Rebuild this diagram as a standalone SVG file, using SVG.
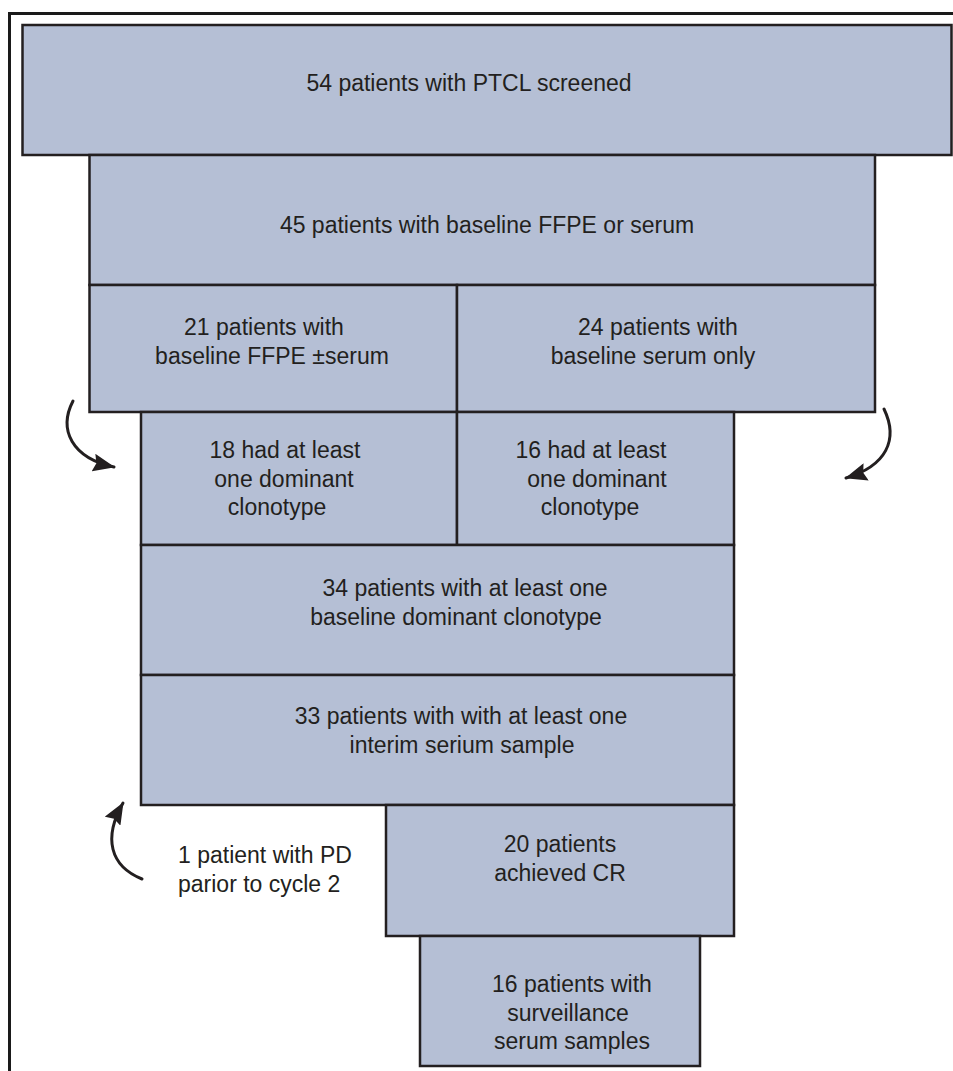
<svg xmlns="http://www.w3.org/2000/svg" width="953" height="1071" viewBox="0 0 953 1071">
<style>
.box{fill:#b5bfd5;stroke:#231f20;stroke-width:2.5}
.t{font-family:"Liberation Sans",Arial,Helvetica,sans-serif;font-size:23px;fill:#231f20;text-anchor:middle}
.ts{font-family:"Liberation Sans",Arial,Helvetica,sans-serif;font-size:23px;fill:#231f20}
.arr{fill:none;stroke:#231f20;stroke-width:3;stroke-linecap:round}
.frame{fill:none;stroke:#1a1a1a;stroke-width:3}
</style>
<defs>
<marker id="ah" viewBox="0 0 22 18" refX="21" refY="9" markerWidth="22" markerHeight="18" markerUnits="userSpaceOnUse" orient="auto">
<path d="M0,0 L22,9 L0,18 L3,9 Z" fill="#231f20"/>
</marker>
</defs>
<rect width="953" height="1071" fill="#ffffff"/>
<path class="frame" d="M9.5,1071 V13.5 H953"/>

<g id="n1"><rect class="box" x="22.5" y="25" width="929" height="130"/>
<text class="t" x="469" y="91">54 patients with PTCL screened</text></g>

<g id="n2"><rect class="box" x="89.5" y="155" width="785.5" height="130"/>
<text class="t" x="487" y="233">45 patients with baseline FFPE or serum</text></g>

<g id="n3"><rect class="box" x="89.5" y="285" width="367.5" height="127"/>
<text class="t" x="264" y="335">21 patients with</text>
<text class="t" x="272" y="364">baseline FFPE ±serum</text></g>

<g id="n4"><rect class="box" x="457" y="285" width="418" height="127"/>
<text class="t" x="658" y="335">24 patients with</text>
<text class="t" x="653" y="364">baseline serum only</text></g>

<g id="n5"><rect class="box" x="141" y="412" width="316" height="133"/>
<text class="t" x="285" y="458">18 had at least</text>
<text class="t" x="284" y="487">one dominant</text>
<text class="t" x="277" y="515">clonotype</text></g>

<g id="n6"><rect class="box" x="457" y="412" width="277" height="133"/>
<text class="t" x="591" y="458">16 had at least</text>
<text class="t" x="597" y="487">one dominant</text>
<text class="t" x="590" y="515">clonotype</text></g>

<g id="n7"><rect class="box" x="141" y="545" width="593" height="130"/>
<text class="t" x="465" y="596">34 patients with at least one</text>
<text class="t" x="456" y="625">baseline dominant clonotype</text></g>

<g id="n8"><rect class="box" x="141" y="675" width="593" height="130"/>
<text class="t" x="461" y="724">33 patients with with at least one</text>
<text class="t" x="462" y="753">interim serium sample</text></g>

<g id="n9"><rect class="box" x="386" y="805" width="348" height="131"/>
<text class="t" x="560" y="852">20 patients</text>
<text class="t" x="560" y="881">achieved CR</text></g>

<g id="n10"><rect class="box" x="420" y="936" width="280" height="130"/>
<text class="t" x="572" y="992">16 patients with</text>
<text class="t" x="568" y="1021">surveillance</text>
<text class="t" x="572" y="1049">serum samples</text></g>

<g id="n11">
<text class="ts" x="178" y="863">1 patient with PD</text>
<text class="ts" x="178" y="892">parior to cycle 2</text></g>

<g id="connectors">
<path class="arr" d="M73,401 C58,430 72,458 114,467" marker-end="url(#ah)"/>
<path class="arr" d="M884,409 C899,440 886,466 846,478" marker-end="url(#ah)"/>
<path class="arr" d="M142,879 C110,866 103,838 123,803" marker-end="url(#ah)"/>
</g>
</svg>
